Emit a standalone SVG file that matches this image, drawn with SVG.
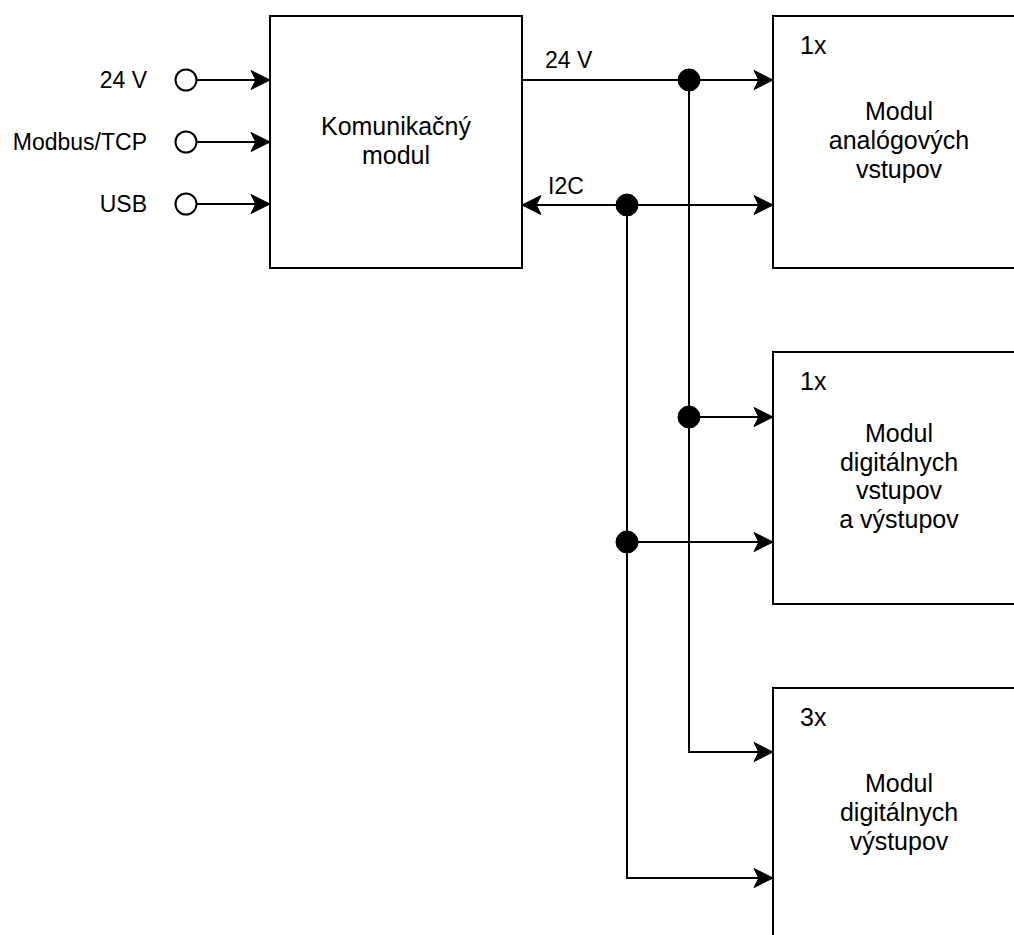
<svg xmlns="http://www.w3.org/2000/svg" width="1014" height="935" viewBox="0 0 1014 935">
  <style>
    .box { fill: #ffffff; stroke: #000000; stroke-width: 2; }
    .wire { fill: none; stroke: #000000; stroke-width: 2; }
    .port { fill: #ffffff; stroke: #000000; stroke-width: 2; }
    .dot { fill: #000000; stroke: #000000; stroke-width: 1; }
    .lbl { font-family: "Liberation Sans", Arial, sans-serif; font-size: 23px; fill: #000000; }
    .txt { font-family: "Liberation Sans", Arial, sans-serif; font-size: 25px; fill: #000000; }
    .mid { text-anchor: middle; }
    .end { text-anchor: end; }
  </style>
  <defs>
    <marker id="arrow" markerUnits="userSpaceOnUse" markerWidth="20" markerHeight="20" refX="19" refY="9.5" orient="auto" overflow="visible">
      <path d="M0,0 L19,9.5 L0,19 L4.75,9.5 Z" fill="#000000" stroke="#000000" stroke-width="1" stroke-linejoin="miter"/>
    </marker>
  </defs>

  <g id="komunikacny-modul">
    <rect class="box" x="270" y="16" width="252" height="252"/>
    <text class="txt mid" x="396" y="135">Komunikačný</text>
    <text class="txt mid" x="396" y="164">modul</text>
  </g>

  <g id="modul-analogovych-vstupov">
    <rect class="box" x="773" y="16" width="252" height="252"/>
    <text class="txt" x="800" y="54">1x</text>
    <text class="txt mid" x="899" y="120">Modul</text>
    <text class="txt mid" x="899" y="149">analógových</text>
    <text class="txt mid" x="899" y="178">vstupov</text>
  </g>

  <g id="modul-digitalnych-vstupov-vystupov">
    <rect class="box" x="773" y="352" width="252" height="252"/>
    <text class="txt" x="800" y="390">1x</text>
    <text class="txt mid" x="899" y="442">Modul</text>
    <text class="txt mid" x="899" y="471">digitálnych</text>
    <text class="txt mid" x="899" y="499">vstupov</text>
    <text class="txt mid" x="899" y="528">a výstupov</text>
  </g>

  <g id="modul-digitalnych-vystupov">
    <rect class="box" x="773" y="688" width="252" height="252"/>
    <text class="txt" x="800" y="726">3x</text>
    <text class="txt mid" x="899" y="792">Modul</text>
    <text class="txt mid" x="899" y="821">digitálnych</text>
    <text class="txt mid" x="899" y="850">výstupov</text>
  </g>

  <g id="port-24v">
    <text class="lbl end" x="147" y="88">24 V</text>
    <circle class="port" cx="186" cy="80" r="10.5"/>
  </g>
  <g id="port-modbus">
    <text class="lbl end" x="147" y="150">Modbus/TCP</text>
    <circle class="port" cx="186" cy="142" r="10.5"/>
  </g>
  <g id="port-usb">
    <text class="lbl end" x="147" y="212">USB</text>
    <circle class="port" cx="186" cy="204" r="10.5"/>
  </g>

  <g id="connectors">
    <path class="wire" d="M196.5,80 L270,80" marker-end="url(#arrow)"/>
    <path class="wire" d="M196.5,142 L270,142" marker-end="url(#arrow)"/>
    <path class="wire" d="M196.5,204 L270,204" marker-end="url(#arrow)"/>

    <path class="wire" d="M522,80 L773,80" marker-end="url(#arrow)"/>
    <path class="wire" d="M689,80 L689,752 L773,752" marker-end="url(#arrow)"/>
    <path class="wire" d="M689,417 L773,417" marker-end="url(#arrow)"/>

    <path class="wire" d="M627,205 L522,205" marker-end="url(#arrow)"/>
    <path class="wire" d="M627,205 L773,205" marker-end="url(#arrow)"/>
    <path class="wire" d="M627,205 L627,878 L773,878" marker-end="url(#arrow)"/>
    <path class="wire" d="M627,542 L773,542" marker-end="url(#arrow)"/>

    <circle class="dot" cx="689" cy="80" r="11"/>
    <circle class="dot" cx="627" cy="205" r="11"/>
    <circle class="dot" cx="689" cy="417" r="11"/>
    <circle class="dot" cx="627" cy="542" r="11"/>

    <text class="lbl" x="545" y="68">24 V</text>
    <text class="lbl" x="548" y="194">I2C</text>
  </g>
</svg>
